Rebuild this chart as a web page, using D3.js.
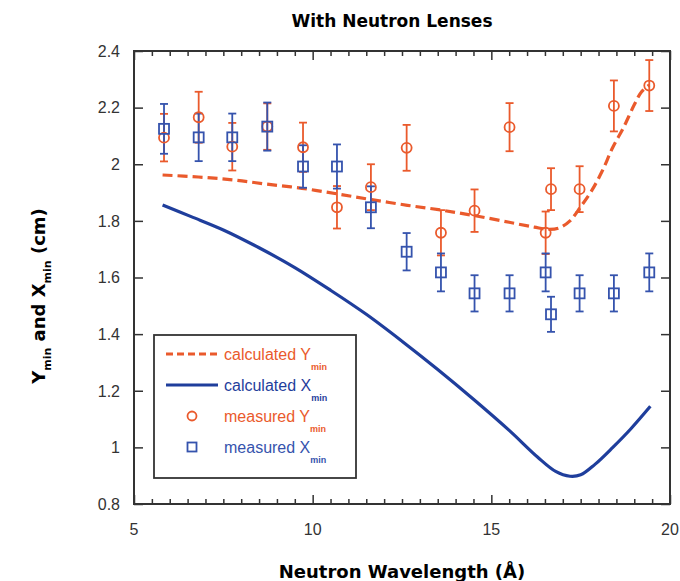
<!DOCTYPE html>
<html>
<head>
<meta charset="utf-8">
<script src="https://cdn.jsdelivr.net/npm/d3@7"></script>
<style>
  body { margin: 0; background: #fff; }
  svg text { font-family: "Liberation Sans", Arial, sans-serif; }
  .bold { font-family: "DejaVu Sans", Verdana, sans-serif !important; font-weight: bold; }
</style>
</head>
<body>
<div id="chart"></div>
<script>
// measured points (same wavelengths for both series)
const wavelength = [5.84, 6.81, 7.75, 8.73, 9.73, 10.68, 11.63, 12.63, 13.59, 14.53, 15.51, 16.52, 16.67, 17.47, 18.43, 19.42];
const measuredY = [2.094, 2.166, 2.062, 2.133, 2.060, 1.848, 1.919, 2.058, 1.758, 1.836, 2.131, 1.758, 1.912, 1.912, 2.206, 2.278];
const measuredYErr = [0.084, 0.09, 0.084, 0.082, 0.087, 0.075, 0.081, 0.081, 0.08, 0.075, 0.085, 0.075, 0.074, 0.081, 0.09, 0.09];
const measuredX = [2.125, 2.095, 2.095, 2.133, 1.992, 1.992, 1.848, 1.691, 1.618, 1.544, 1.544, 1.618, 1.470, 1.544, 1.544, 1.618];
const measuredXErr = [0.088, 0.084, 0.084, 0.085, 0.075, 0.078, 0.074, 0.066, 0.067, 0.064, 0.064, 0.067, 0.062, 0.064, 0.064, 0.067];

// calculated curves
const calcYWave = [5.8, 6.8, 7.75, 8.7, 9.7, 10.7, 11.65, 12.65, 13.6, 14.55, 15.5, 16.2, 16.6, 16.9, 17.2, 17.5, 17.8, 18.1, 18.4, 18.7, 19.0, 19.2, 19.42];
const calcYVal = [1.962, 1.955, 1.945, 1.93, 1.915, 1.895, 1.875, 1.855, 1.838, 1.818, 1.795, 1.778, 1.770, 1.775, 1.80, 1.85, 1.905, 1.975, 2.06, 2.13, 2.21, 2.255, 2.28];
const calcXWave = [5.8, 6.6, 7.5, 8.5, 9.5, 10.5, 11.5, 12.5, 13.5, 14.5, 15.5, 16.3, 16.8, 17.2, 17.5, 17.9, 18.4, 18.9, 19.45];
const calcXVal = [1.856, 1.815, 1.768, 1.705, 1.635, 1.555, 1.47, 1.375, 1.275, 1.17, 1.06, 0.965, 0.915, 0.898, 0.903, 0.94, 1.00, 1.065, 1.145];

const xTicks = [5, 10, 15, 20];
const yTicks = [0.8, 1, 1.2, 1.4, 1.6, 1.8, 2, 2.2, 2.4];

const width = 680, height = 581;
const plotLeft = 134, plotRight = 670, plotTop = 51, plotBottom = 504;
const orange = "#ea5a2c", blue = "#3553ad", navy = "#1f3e9c", frameColor = "#333";

const svg = d3.select("#chart").append("svg")
    .attr("width", width)
    .attr("height", height);

const x = d3.scaleLinear().domain([5, 20]).range([plotLeft, plotRight]);
const y = d3.scaleLinear().domain([0.8, 2.4]).range([plotBottom, plotTop]);

// ticks (inward on all four sides)
const minor = d3.range(5, 20.01, 0.5);
svg.append("g")
    .attr("transform", `translate(0,${plotBottom})`)
    .call(d3.axisTop(x).tickValues(minor).tickSize(5).tickFormat(""))
    .call(g => g.select(".domain").remove())
    .call(g => g.selectAll("line").attr("stroke", frameColor).attr("stroke-width", 1.5)
        .attr("y2", d => xTicks.includes(d) ? -9 : -5));
svg.append("g")
    .attr("transform", `translate(0,${plotTop})`)
    .call(d3.axisBottom(x).tickValues(minor).tickSize(5).tickFormat(""))
    .call(g => g.select(".domain").remove())
    .call(g => g.selectAll("line").attr("stroke", frameColor).attr("stroke-width", 1.5)
        .attr("y2", d => xTicks.includes(d) ? 9 : 5));
svg.append("g")
    .attr("transform", `translate(${plotLeft},0)`)
    .call(d3.axisRight(y).tickValues(yTicks).tickSize(9).tickFormat(""))
    .call(g => g.select(".domain").remove())
    .call(g => g.selectAll("line").attr("stroke", frameColor).attr("stroke-width", 1.5));
svg.append("g")
    .attr("transform", `translate(${plotRight},0)`)
    .call(d3.axisLeft(y).tickValues(yTicks).tickSize(9).tickFormat(""))
    .call(g => g.select(".domain").remove())
    .call(g => g.selectAll("line").attr("stroke", frameColor).attr("stroke-width", 1.5));

// tick labels
svg.append("g").selectAll("text")
    .data(xTicks)
    .join("text")
    .attr("x", d => x(d))
    .attr("y", plotBottom + 31)
    .attr("text-anchor", "middle")
    .attr("font-size", 16)
    .attr("fill", "#333")
    .text(d => d);
svg.append("g").selectAll("text")
    .data(yTicks)
    .join("text")
    .attr("x", plotLeft - 14)
    .attr("y", d => y(d))
    .attr("dy", "0.36em")
    .attr("text-anchor", "end")
    .attr("font-size", 16)
    .attr("fill", "#333")
    .text(d => d3.format("~g")(d));

// frame
svg.append("rect")
    .attr("x", plotLeft).attr("y", plotTop)
    .attr("width", plotRight - plotLeft).attr("height", plotBottom - plotTop)
    .attr("fill", "none")
    .attr("stroke", frameColor)
    .attr("stroke-width", 2);

// calculated curves
const line = d3.line()
    .x(d => x(d[0]))
    .y(d => y(d[1]))
    .curve(d3.curveCatmullRom);

svg.append("path")
    .attr("d", line(d3.zip(calcXWave, calcXVal)))
    .attr("fill", "none")
    .attr("stroke", navy)
    .attr("stroke-width", 3.2);

svg.append("path")
    .attr("d", line(d3.zip(calcYWave, calcYVal)))
    .attr("fill", "none")
    .attr("stroke", orange)
    .attr("stroke-width", 3.2)
    .attr("stroke-dasharray", "10,5");

// error bars + markers
function drawErrors(vals, errs, color) {
    const g = svg.append("g").attr("stroke", color).attr("stroke-width", 1.8);
    wavelength.forEach((w, i) => {
        const cx = x(w), y0 = y(vals[i] - errs[i]), y1 = y(vals[i] + errs[i]);
        g.append("line").attr("x1", cx).attr("x2", cx).attr("y1", y0).attr("y2", y1);
        g.append("line").attr("x1", cx - 4).attr("x2", cx + 4).attr("y1", y0).attr("y2", y0);
        g.append("line").attr("x1", cx - 4).attr("x2", cx + 4).attr("y1", y1).attr("y2", y1);
    });
}
drawErrors(measuredY, measuredYErr, orange);
drawErrors(measuredX, measuredXErr, blue);

svg.append("g").selectAll("circle")
    .data(d3.zip(wavelength, measuredY))
    .join("circle")
    .attr("cx", d => x(d[0]))
    .attr("cy", d => y(d[1]))
    .attr("r", 5)
    .attr("fill", "none")
    .attr("stroke", orange)
    .attr("stroke-width", 1.8);

svg.append("g").selectAll("rect")
    .data(d3.zip(wavelength, measuredX))
    .join("rect")
    .attr("x", d => x(d[0]) - 5)
    .attr("y", d => y(d[1]) - 5)
    .attr("width", 10)
    .attr("height", 10)
    .attr("fill", "none")
    .attr("stroke", blue)
    .attr("stroke-width", 1.8);

// legend
const legend = svg.append("g");
legend.append("rect")
    .attr("x", 154).attr("y", 335)
    .attr("width", 202).attr("height", 143)
    .attr("fill", "#fff")
    .attr("stroke", frameColor)
    .attr("stroke-width", 1.8);

const legendItems = [
    { label: "calculated ", sym: "Y", color: orange, kind: "dash" },
    { label: "calculated ", sym: "X", color: navy, kind: "line" },
    { label: "measured ", sym: "Y", color: orange, kind: "circle" },
    { label: "measured ", sym: "X", color: blue, kind: "square" }
];
legendItems.forEach((d, i) => {
    const cy = 354 + i * 31;
    if (d.kind === "dash" || d.kind === "line") {
        legend.append("line")
            .attr("x1", 166).attr("x2", 218).attr("y1", cy).attr("y2", cy)
            .attr("stroke", d.color).attr("stroke-width", 3)
            .attr("stroke-dasharray", d.kind === "dash" ? "7,4" : null);
    } else if (d.kind === "circle") {
        legend.append("circle").attr("cx", 192).attr("cy", cy).attr("r", 4.5)
            .attr("fill", "none").attr("stroke", d.color).attr("stroke-width", 1.8);
    } else {
        legend.append("rect").attr("x", 187.5).attr("y", cy - 4.5).attr("width", 9).attr("height", 9)
            .attr("fill", "none").attr("stroke", d.color).attr("stroke-width", 1.8);
    }
    const t = legend.append("text")
        .attr("x", 224).attr("y", cy + 6)
        .attr("font-size", 16)
        .attr("fill", d.color);
    t.append("tspan").text(d.label + d.sym);
    t.append("tspan").attr("dy", 10).attr("font-size", 9).attr("font-weight", "bold").text("min");
});

// titles
svg.append("text")
    .attr("class", "bold")
    .attr("x", 392).attr("y", 27)
    .attr("text-anchor", "middle")
    .attr("font-size", 17)
    .text("With Neutron Lenses");

svg.append("text")
    .attr("class", "bold")
    .attr("x", 402).attr("y", 578)
    .attr("text-anchor", "middle")
    .attr("font-size", 18)
    .text("Neutron Wavelength (Å)");

const yl = svg.append("text")
    .attr("class", "bold")
    .attr("transform", "translate(45,296) rotate(-90)")
    .attr("text-anchor", "middle")
    .attr("font-size", 18);
yl.append("tspan").text("Y");
yl.append("tspan").attr("dy", 6).attr("font-size", 11).text("min");
yl.append("tspan").attr("dy", -6).text(" and X");
yl.append("tspan").attr("dy", 6).attr("font-size", 11).text("min");
yl.append("tspan").attr("dy", -6).text(" (cm)");
</script>
</body>
</html>
